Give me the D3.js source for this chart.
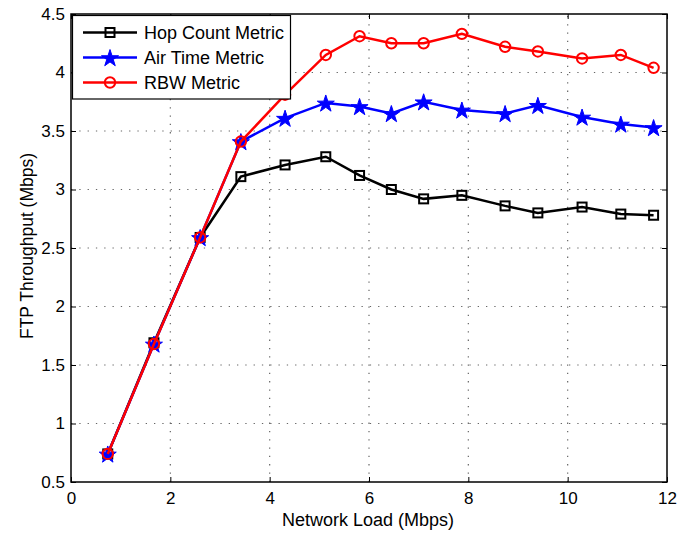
<!DOCTYPE html>
<html><head><meta charset="utf-8">
<script src="https://cdn.jsdelivr.net/npm/d3@7"></script>
<style>body{margin:0;background:#fff}svg{display:block}text{font-family:"Liberation Sans",Arial,sans-serif}</style>
</head><body><svg id="c" width="680" height="538"></svg>
<script>
const load = [0.74, 1.67, 2.6, 3.42, 4.31, 5.13, 5.81, 6.45, 7.1, 7.87, 8.74, 9.4, 10.29, 11.07, 11.73];
const hopCount = [0.74, 1.69, 2.59, 3.11, 3.21, 3.28, 3.12, 3.0, 2.92, 2.95, 2.86, 2.8, 2.85, 2.79, 2.78];
const airTime = [0.74, 1.68, 2.59, 3.41, 3.61, 3.74, 3.71, 3.65, 3.75, 3.68, 3.65, 3.72, 3.62, 3.56, 3.53];
const rbw = [0.74, 1.68, 2.59, 3.41, 3.81, 4.15, 4.31, 4.25, 4.25, 4.33, 4.22, 4.18, 4.12, 4.15, 4.04];
const xTicks = [0, 2, 4, 6, 8, 10, 12];
const yTicks = [0.5, 1, 1.5, 2, 2.5, 3, 3.5, 4, 4.5];
const seriesNames = ["Hop Count Metric", "Air Time Metric", "RBW Metric"];

const svg = d3.select("#c");
const L = 71, R = 667, T = 14, B = 482;
const x = d3.scaleLinear().domain([0, 12]).range([L, R]);
const y = d3.scaleLinear().domain([0.5, 4.5]).range([B, T]);

// grid
const g = svg.append("g");
g.selectAll(".gx").data(xTicks.slice(1, -1)).join("line")
  .attr("x1", d => x(d)).attr("x2", d => x(d)).attr("y1", B).attr("y2", T)
  .attr("stroke", "#666").attr("stroke-width", 1.2).attr("stroke-dasharray", "1.3,7");
g.selectAll(".gy").data(yTicks.slice(1, -1)).join("line")
  .attr("y1", d => y(d)).attr("y2", d => y(d)).attr("x1", L).attr("x2", R)
  .attr("stroke", "#666").attr("stroke-width", 1.2).attr("stroke-dasharray", "1.3,7");

// axes with inward ticks
const ax = svg.append("g").attr("transform", `translate(0,${B})`)
  .call(d3.axisBottom(x).tickValues(xTicks).tickSize(-5).tickPadding(10).tickFormat(d3.format("d")));
const ay = svg.append("g").attr("transform", `translate(${L},0)`)
  .call(d3.axisLeft(y).tickValues(yTicks).tickSize(-5).tickPadding(6).tickFormat(d => String(d)));
const axTop = svg.append("g").attr("transform", `translate(0,${T})`)
  .call(d3.axisTop(x).tickValues(xTicks).tickSize(-5).tickFormat(""));
const ayR = svg.append("g").attr("transform", `translate(${R},0)`)
  .call(d3.axisRight(y).tickValues(yTicks).tickSize(-5).tickFormat(""));
[ax, ay, axTop, ayR].forEach(a => {
  a.select(".domain").remove();
  a.selectAll("line").attr("stroke", "#000");
  a.selectAll("text").attr("font-size", 17).attr("fill", "#000").attr("font-family", "Liberation Sans, Arial, sans-serif");
});
svg.append("rect").attr("x", L).attr("y", T).attr("width", R - L).attr("height", B - T)
  .attr("fill", "none").attr("stroke", "#000").attr("stroke-width", 1.5);

// labels
svg.append("text").attr("x", 368).attr("y", 526).attr("text-anchor", "middle")
  .attr("font-size", 18).text("Network Load (Mbps)");
svg.append("text").attr("transform", `translate(33,246) rotate(-90)`).attr("text-anchor", "middle")
  .attr("font-size", 17.5).text("FTP Throughput (Mbps)");

const line = d3.line().x((d, i) => x(load[i])).y(d => y(d));
const colors = ["#000", "#0000ff", "#ff0000"];
const datas = [hopCount, airTime, rbw];
const star = d3.symbol().type(d3.symbolStar).size(90);

function marker(sel, k, cx, cy) {
  if (k === 0) sel.append("rect").attr("x", cx - 4.5).attr("y", cy - 4.5).attr("width", 9).attr("height", 9)
    .attr("fill", "none").attr("stroke", "#000").attr("stroke-width", 2);
  else if (k === 1) sel.append("path").attr("d", star()).attr("transform", `translate(${cx},${cy + 1})`)
    .attr("fill", "#0000ff").attr("stroke", "#0000ff").attr("stroke-width", 1);
  else sel.append("circle").attr("cx", cx).attr("cy", cy).attr("r", 5.2)
    .attr("fill", "none").attr("stroke", "#ff0000").attr("stroke-width", 2);
}

datas.forEach((data, k) => {
  const sg = svg.append("g");
  sg.append("path").datum(data).attr("d", line).attr("fill", "none")
    .attr("stroke", colors[k]).attr("stroke-width", 2.5);
  data.forEach((v, i) => marker(sg, k, x(load[i]), y(v)));
});

// legend
const lg = svg.append("g");
lg.append("rect").attr("x", 72.5).attr("y", 15.5).attr("width", 218).attr("height", 83.5)
  .attr("fill", "#fff").attr("stroke", "#000").attr("stroke-width", 1.2);
seriesNames.forEach((n, k) => {
  const yy = 32.5 + k * 25;
  lg.append("line").attr("x1", 83).attr("x2", 137).attr("y1", yy).attr("y2", yy)
    .attr("stroke", colors[k]).attr("stroke-width", 2.5);
  marker(lg, k, 110, yy);
  lg.append("text").attr("x", 144).attr("y", yy + 6.5).attr("font-size", 18).text(n);
});
</script></body></html>
